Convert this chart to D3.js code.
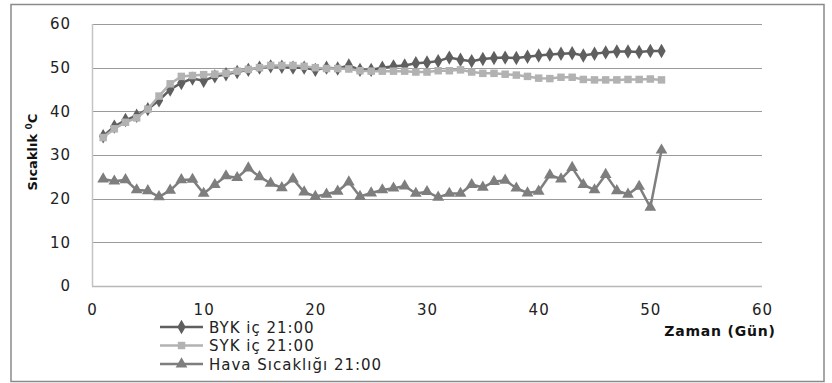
<!DOCTYPE html>
<html>
<head>
<meta charset="utf-8">
<script src="https://cdn.jsdelivr.net/npm/d3@7"></script>
<style>
  body { margin: 0; background: #fff; }
  text { font-family: "DejaVu Sans", Verdana, sans-serif; }
</style>
</head>
<body>
<script>
// Days and series values
var days = d3.range(1, 52);
var bykValues = [34.3, 36.5, 38, 39, 40.5, 42.5, 45, 46.5, 47.5, 47, 48, 48.5, 49, 49.5, 50, 50.3, 50.2, 50, 50, 49.5,
                 50, 49.8, 50.5, 49.5, 49.5, 50, 50.3, 50.5, 51, 51.2, 51.5, 52.3, 51.8, 51.5, 52, 52.2, 52.3, 52.2, 52.5, 52.8,
                 53, 53.2, 53.3, 52.8, 53.2, 53.5, 53.7, 53.7, 53.6, 53.8, 53.8];
var sykValues = [34, 36, 37.5, 38.5, 40.5, 43.5, 46.3, 48, 48.2, 48.4, 48.5, 48.7, 49.2, 49.6, 50, 50.5, 50.5, 50.5, 50.3, 50,
                 49.8, 49.8, 49.7, 49.3, 49.2, 49.2, 49.2, 49.2, 49, 49, 49.3, 49.3, 49.5, 49, 48.7, 48.7, 48.5, 48.3, 48, 47.6,
                 47.5, 47.8, 47.8, 47.3, 47.2, 47.2, 47.2, 47.3, 47.3, 47.4, 47.2];
var havaValues = [24.5, 24, 24.3, 22, 21.8, 20.4, 21.9, 24.3, 24.4, 21.2, 23.2, 25.2, 24.8, 27, 25, 23.5, 22.5, 24.5, 21.5, 20.5,
                  21, 21.7, 23.8, 20.5, 21.3, 22, 22.4, 22.9, 21.2, 21.6, 20.3, 21.2, 21.2, 23.2, 22.6, 23.9, 24.2, 22.4, 21.3, 21.7,
                  25.4, 24.5, 27.1, 23.2, 22, 25.5, 21.8, 21, 22.8, 18, 31.1];
var seriesNames = ["BYK iç 21:00", "SYK iç 21:00", "Hava Sıcaklığı 21:00"];
var xTicks = [0, 10, 20, 30, 40, 50, 60];
var yTicks = [0, 10, 20, 30, 40, 50, 60];

var svgWidth = 832, svgHeight = 383;
var plot = { left: 92, top: 24, right: 762, bottom: 286 };

var svg = d3.select("body").append("svg")
  .attr("width", svgWidth)
  .attr("height", svgHeight);

// outer chart frame
svg.append("rect")
  .attr("x", 11).attr("y", 4.5)
  .attr("width", 813).attr("height", 377)
  .attr("fill", "#fff")
  .attr("stroke", "#8a8a8a")
  .attr("stroke-width", 1.5);

var x = d3.scaleLinear().domain([0, 60]).range([plot.left, plot.right]);
var y = d3.scaleLinear().domain([0, 60]).range([plot.bottom, plot.top]);

// gridlines
svg.append("g")
  .selectAll("line")
  .data(yTicks)
  .enter().append("line")
  .attr("x1", plot.left).attr("x2", plot.right)
  .attr("y1", d => Math.round(y(d)) + 0.5)
  .attr("y2", d => Math.round(y(d)) + 0.5)
  .attr("stroke", d => d === 0 ? "#b8b8b8" : "#9a9a9a")
  .attr("stroke-width", d => d === 0 ? 1.5 : 1);

// left axis line
svg.append("line")
  .attr("x1", plot.left + 0.5).attr("x2", plot.left + 0.5)
  .attr("y1", plot.top).attr("y2", plot.bottom)
  .attr("stroke", "#c4c4c4").attr("stroke-width", 1.5);

// y axis labels
var yAxis = d3.axisLeft(y).tickValues(yTicks).tickSize(0).tickPadding(21);
svg.append("g")
  .attr("transform", "translate(" + plot.left + ",0)")
  .call(yAxis)
  .call(g => g.select(".domain").remove())
  .selectAll("text")
  .style("font-size", "15px")
  .style("letter-spacing", "1px")
  .style("font-family", "DejaVu Sans")
  .attr("fill", "#222");

// x axis labels
var xAxis = d3.axisBottom(x).tickValues(xTicks).tickSize(0).tickPadding(18);
svg.append("g")
  .attr("transform", "translate(0," + plot.bottom + ")")
  .call(xAxis)
  .call(g => g.select(".domain").remove())
  .selectAll("text")
  .style("font-size", "15px")
  .style("letter-spacing", "1px")
  .style("font-family", "DejaVu Sans")
  .attr("fill", "#222");

// axis titles
var yTitle = svg.append("text")
  .attr("transform", "translate(37,152) rotate(-90)")
  .attr("text-anchor", "middle")
  .style("font-size", "13px")
  .style("font-weight", "bold")
  .attr("fill", "#111");
yTitle.append("tspan").text("Sıcaklık ");
yTitle.append("tspan").attr("dy", -5).style("font-size", "9px").text("0");
yTitle.append("tspan").attr("dy", 5).text("C");

svg.append("text")
  .attr("x", 720).attr("y", 336)
  .attr("text-anchor", "middle")
  .style("font-size", "14px")
  .style("font-weight", "bold")
  .style("letter-spacing", "0.8px")
  .attr("fill", "#111")
  .text("Zaman (Gün)");

// series
var series = [
  { name: seriesNames[0], values: bykValues, color: "#5f5f5f", symbol: d3.symbolDiamond, size: 60 },
  { name: seriesNames[1], values: sykValues, color: "#b2b2b2", symbol: d3.symbolSquare, size: 56 },
  { name: seriesNames[2], values: havaValues, color: "#7e7e7e", symbol: d3.symbolTriangle, size: 60 }
];

var line = d3.line()
  .x((d, i) => x(days[i]))
  .y(d => y(d));

series.forEach(function(s) {
  var g = svg.append("g");
  g.append("path")
    .datum(s.values)
    .attr("d", line)
    .attr("fill", "none")
    .attr("stroke", s.color)
    .attr("stroke-width", 2.5);
  g.selectAll("path.marker")
    .data(s.values)
    .enter().append("path")
    .attr("class", "marker")
    .attr("d", d3.symbol().type(s.symbol).size(s.size))
    .attr("transform", (d, i) => "translate(" + x(days[i]) + "," + y(d) + ")")
    .attr("fill", s.color);
});

// legend
var legend = svg.append("g");
series.forEach(function(s, i) {
  var ly = 327 + i * 18.5;
  legend.append("line")
    .attr("x1", 160).attr("x2", 203)
    .attr("y1", ly).attr("y2", ly)
    .attr("stroke", s.color).attr("stroke-width", 2.5);
  legend.append("path")
    .attr("d", d3.symbol().type(s.symbol).size(s.size))
    .attr("transform", "translate(181.5," + ly + ")")
    .attr("fill", s.color);
  legend.append("text")
    .attr("x", 209).attr("y", ly + 5.5)
    .style("font-size", "15px")
    .style("letter-spacing", "1px")
    .attr("fill", "#222")
    .text(s.name);
});
</script>
</body>
</html>
